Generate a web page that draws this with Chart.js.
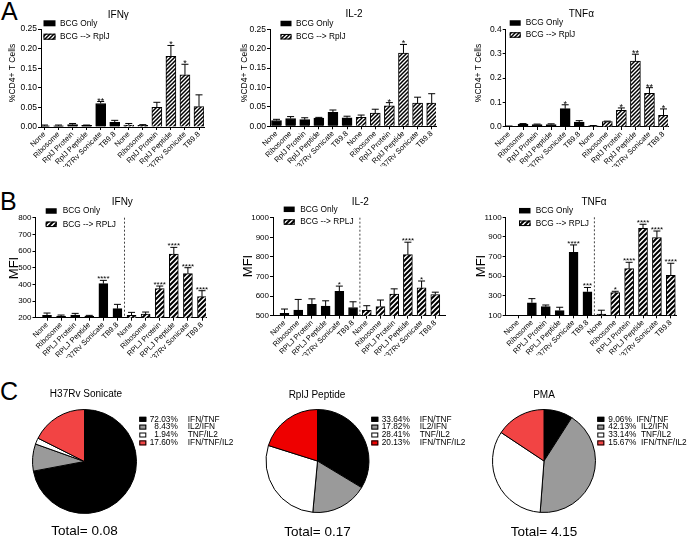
<!DOCTYPE html>
<html><head><meta charset="utf-8">
<script src="https://cdn.jsdelivr.net/npm/chart.js@4.4.1/dist/chart.umd.min.js"></script>
<style>
html,body{margin:0;padding:0;background:#fff;}
#wrap{position:relative;width:696px;height:538px;overflow:hidden;font-family:'Liberation Sans',Arial,sans-serif;}
#wrap canvas{position:absolute;left:0;top:0;}
.letter{position:absolute;font-size:25px;line-height:25px;color:#000;}
</style></head><body>
<div id="wrap">
<div class="letter" style="left:1px;top:-1px">A</div>
<div class="letter" style="left:0px;top:189px">B</div>
<div class="letter" style="left:0px;top:379px">C</div>
</div>
<script>
// ---------- DATA ----------
const categoriesA = ["None","Ribosome","RplJ Protein","RplJ Peptide","H37Rv Sonicate","TB9.8"];
const categoriesB = ["None","Ribosome","RPLJ Protein","RPLJ Peptide","H37Rv Sonicate","TB9.8"];
const legendA = ["BCG Only","BCG --> RplJ"];
const legendB = ["BCG Only","BCG --> RPLJ"];

// Panel A - IFNγ
const ifngA_bcg      = [0.003,0.003,0.006,0.004,0.060,0.012];
const ifngA_bcgErr   = [0.002,0.002,0.003,0.001,0.005,0.005];
const ifngA_bcgStars = ["","","","","**",""];
const ifngA_rplj      = [0.005,0.004,0.050,0.180,0.133,0.052];
const ifngA_rpljErr   = [0.004,0.002,0.013,0.028,0.027,0.030];
const ifngA_rpljStars = ["","","","*","*",""];
const ticksA_ifng = ["0.00","0.05","0.10","0.15","0.20","0.25"];

// Panel A - IL-2
const il2A_bcg      = [0.015,0.020,0.017,0.021,0.036,0.022];
const il2A_bcgErr   = [0.003,0.005,0.005,0.002,0.006,0.004];
const il2A_bcgStars = ["","","","","",""];
const il2A_rplj      = [0.023,0.034,0.053,0.189,0.060,0.060];
const il2A_rpljErr   = [0.006,0.010,0.008,0.022,0.015,0.024];
const il2A_rpljStars = ["","","*","*","",""];
const ticksA_il2 = ["0.00","0.05","0.10","0.15","0.20","0.25"];

// Panel A - TNFα
const tnfA_bcg      = [0.003,0.012,0.010,0.010,0.075,0.020];
const tnfA_bcgErr   = [0.001,0.002,0.002,0.003,0.016,0.006];
const tnfA_bcgStars = ["","","","","*",""];
const tnfA_rplj      = [0.005,0.022,0.068,0.270,0.138,0.048];
const tnfA_rpljErr   = [0.001,0.002,0.010,0.028,0.023,0.026];
const tnfA_rpljStars = ["","","*","**","**","*"];
const ticksA_tnf = ["0.0","0.1","0.2","0.3","0.4"];

// Panel B - IFNy (MFI)
const ifnB_bcg      = [214,210,216,210,404,254];
const ifnB_bcgErr   = [14,6,10,4,20,26];
const ifnB_bcgStars = ["","","","","****",""];
const ifnB_rplj      = [214,222,374,582,464,326];
const ifnB_rpljErr   = [18,12,16,40,36,36];
const ifnB_rpljStars = ["","","****","****","****","****"];
const ticksB_ifn = ["200","300","400","500","600","700","800"];

// Panel B - IL-2 (MFI)
const il2B_bcg      = [512,529,558,549,624,542];
const il2B_bcgErr   = [22,54,28,27,27,29];
const il2B_bcgStars = ["","","","","*",""];
const il2B_rplj      = [527,547,610,812,642,608];
const il2B_rpljErr   = [24,33,27,63,35,12];
const il2B_rpljStars = ["","","","****","*",""];
const ticksB_il2 = ["500","600","700","800","900","1000"];

// Panel B - TNFα (MFI)
const tnfB_bcg      = [100,228,188,148,743,340];
const tnfB_bcgErr   = [0,42,17,34,75,44];
const tnfB_bcgStars = ["","","","","****","***"];
const tnfB_rplj      = [112,331,576,988,892,508];
const tnfB_rpljErr   = [40,14,65,41,68,123];
const tnfB_rpljStars = ["","*","****","****","****","****"];
const ticksB_tnf = ["100","200","300","400","500","600","700","800","900","1000","1100"];

// Panel C - pies
const pieLabels = ["IFN/TNF","IL2/IFN","TNF/IL2","IFN/TNF/IL2"];
const pieSonicate = [72.03, 8.43, 1.94, 17.60];
const piePeptide  = [33.64, 17.82, 28.41, 20.13];
const piePMA      = [9.06, 42.13, 33.14, 15.67];
const pieTitles = ["H37Rv Sonicate","RplJ Peptide","PMA"];
const pieTotals = ["0.08","0.17","4.15"];

// ---------- RENDERING ----------
const FONT = "'Liberation Sans', Arial, Helvetica, sans-serif";
Chart.defaults.font.family = FONT;
Chart.defaults.color = '#000';
const W = 696, H = 538;

function makeHatch(size, lw) {
  const c = document.createElement('canvas'); c.width = size; c.height = size;
  const g = c.getContext('2d');
  g.fillStyle = '#fff'; g.fillRect(0, 0, size, size);
  g.strokeStyle = '#000'; g.lineWidth = lw;
  g.beginPath();
  for (const k of [-size, 0, size]) { g.moveTo(k - 1, size + 1); g.lineTo(k + size + 1, -1); }
  g.stroke();
  return g.createPattern(c, 'repeat');
}
const hatchA = makeHatch(4, 1.5);
const hatchB = makeHatch(5, 2);

function newCanvas() {
  const c = document.createElement('canvas');
  c.width = W; c.height = H;
  document.getElementById('wrap').appendChild(c);
  return c;
}

function barChart(s) {
  const cats = s.cats.concat(s.cats);
  const vals = s.bcg.concat(s.rplj);
  const errs = s.bcgErr.concat(s.rpljErr);
  const stars = s.bcgStars.concat(s.rpljStars);
  const g = s.geo;
  const slot = (g.c11 - g.c0) / 11;
  const xmin = -(g.c0 - g.L) / slot, xmax = 11 + (g.R - g.c11) / slot;
  const yVals = s.ticks.map(Number);
  const hatch = s.hatch;
  const deco = {
    id: 'deco',
    afterDatasetsDraw(chart) {
      const ctx = chart.ctx, xs = chart.scales.x, ys = chart.scales.y, ca = chart.chartArea;
      ctx.save();
      ctx.strokeStyle = '#000'; ctx.fillStyle = '#000'; ctx.lineWidth = 1;
      vals.forEach((v, i) => {
        const e = errs[i];
        const x = xs.getPixelForValue(i);
        if (e > 0 && v + e > ys.min) {
          const y0 = ys.getPixelForValue(Math.max(v, ys.min));
          const y1 = ys.getPixelForValue(v + e);
          ctx.beginPath();
          ctx.moveTo(x, y0); ctx.lineTo(x, y1);
          ctx.moveTo(x - g.cap, y1); ctx.lineTo(x + g.cap, y1);
          ctx.stroke();
        }
        if (stars[i]) {
          const yt = ys.getPixelForValue(v + e);
          ctx.font = g.starSize + 'px ' + FONT;
          ctx.textAlign = 'center'; ctx.textBaseline = 'alphabetic';
          ctx.fillText(stars[i], x, yt + g.starOff);
        }
      });
      if (s.divider) {
        const xd = xs.getPixelForValue(5.5);
        ctx.setLineDash([2, 2]); ctx.strokeStyle = '#444';
        ctx.beginPath(); ctx.moveTo(xd, ca.top); ctx.lineTo(xd, ca.bottom); ctx.stroke();
        ctx.setLineDash([]);
      }
      ctx.restore();
    },
    afterDraw(chart) {
      const ctx = chart.ctx;
      ctx.save();
      ctx.fillStyle = '#000'; ctx.strokeStyle = '#000'; ctx.lineWidth = 1;
      ctx.font = '10px ' + FONT; ctx.textAlign = 'center'; ctx.textBaseline = 'middle';
      ctx.fillText(s.title, g.tx, g.ty);
      ctx.save();
      ctx.translate(g.yx, g.yy); ctx.rotate(-Math.PI / 2);
      ctx.font = g.ySize + 'px ' + FONT;
      ctx.fillText(s.yTitle, 0, 0);
      ctx.restore();
      const lg = g.leg;
      ctx.font = '8.3px ' + FONT; ctx.textAlign = 'left'; ctx.textBaseline = 'middle';
      ctx.fillStyle = '#000';
      ctx.fillRect(lg.x, lg.y1 - lg.h / 2, lg.w, lg.h);
      ctx.fillText(s.legend[0], lg.tx, lg.y1);
      ctx.fillStyle = hatch;
      ctx.fillRect(lg.x, lg.y2 - lg.h / 2, lg.w, lg.h);
      ctx.strokeRect(lg.x + 0.5, lg.y2 - lg.h / 2 + 0.5, lg.w - 1, lg.h - 1);
      ctx.fillStyle = '#000';
      ctx.fillText(s.legend[1], lg.tx, lg.y2);
      ctx.restore();
    }
  };
  const colors = vals.map((v, i) => i < 6 ? '#000' : hatch);
  return new Chart(newCanvas(), {
    type: 'bar',
    data: { datasets: [{
      data: vals.map((v, i) => ({ x: i, y: v })),
      backgroundColor: colors, borderColor: '#000', borderWidth: 1,
      barThickness: g.bw
    }]},
    options: {
      responsive: false, animation: false, devicePixelRatio: 1, events: [],
      layout: { padding: { left: 0, top: g.T, right: W - g.R, bottom: H - g.B - 40 } },
      plugins: { legend: { display: false }, tooltip: { enabled: false }, title: { display: false } },
      scales: {
        x: {
          type: 'linear', min: xmin, max: xmax, offset: false,
          afterBuildTicks: sc => { sc.ticks = cats.map((c, i) => ({ value: i })); },
          afterFit: sc => { sc.height = 40; sc.paddingLeft = 0; sc.paddingRight = 0; },
          ticks: { autoSkip: false, minRotation: 45, maxRotation: 45, padding: 0,
                   font: { size: 7.5 }, color: '#000', callback: v => cats[v] },
          grid: { drawOnChartArea: false, drawTicks: true, tickLength: 3, color: '#000', offset: false },
          border: { color: '#000', width: 1 }
        },
        y: {
          type: 'linear', min: yVals[0], max: yVals[yVals.length - 1],
          afterBuildTicks: sc => { sc.ticks = yVals.map(v => ({ value: v })); },
          afterFit: sc => { sc.width = g.L; },
          ticks: { font: { size: g.tickSize }, color: '#000', padding: 1,
                   callback: (v, idx) => s.ticks[idx] },
          grid: { drawOnChartArea: false, drawTicks: true, tickLength: 3, color: '#000' },
          border: { color: '#000', width: 1 }
        }
      }
    },
    plugins: [deco]
  });
}

function pieChart(p) {
  const g = p.geo;
  const deco = {
    id: 'pdeco',
    afterDraw(chart) {
      const ctx = chart.ctx;
      ctx.save();
      ctx.fillStyle = '#000';
      ctx.font = '10px ' + FONT; ctx.textAlign = 'center'; ctx.textBaseline = 'middle';
      ctx.fillText(p.title, g.tx, g.ty);
      ctx.font = '13.5px ' + FONT;
      ctx.fillText('Total= ' + p.total, g.cx, g.totY);
      ctx.font = '8.3px ' + FONT; ctx.textBaseline = 'middle'; ctx.lineWidth = 1; ctx.strokeStyle = '#000';
      p.values.forEach((v, i) => {
        const y = g.rows[i];
        ctx.fillStyle = p.colors[i];
        ctx.fillRect(g.bx, y - 2.5, 7, 5);
        ctx.strokeRect(g.bx + 0.5, y - 2.5 + 0.5, 6, 4);
        ctx.fillStyle = '#000';
        const pct = v.toFixed(2) + '%';
        if (g.leftAlign) {
          ctx.textAlign = 'left';
          ctx.fillText(pct + '  ' + pieLabels[i], g.bx + 11, y);
        } else {
          ctx.textAlign = 'right';
          ctx.fillText(pct, g.bx + 38.5, y);
          ctx.textAlign = 'left';
          ctx.fillText(pieLabels[i], g.bx + 48.5, y);
        }
      });
      ctx.restore();
    }
  };
  const r = g.r;
  return new Chart(newCanvas(), {
    type: 'pie',
    data: { labels: pieLabels, datasets: [{
      data: p.values, backgroundColor: p.colors, borderColor: '#000', borderWidth: 1,
      hoverOffset: 0, offset: 0
    }]},
    options: {
      responsive: false, animation: false, devicePixelRatio: 1, events: [],
      layout: { padding: { left: g.cx - r - 0.5, top: g.cy - r - 0.5,
                           right: W - (g.cx + r + 0.5), bottom: H - (g.cy + r + 0.5) } },
      plugins: { legend: { display: false }, tooltip: { enabled: false } }
    },
    plugins: [deco]
  });
}

const geoA = (L, R, T, B, c0, c11, tx, ty, yx, leg) => ({ L, R, T, B, c0, c11, tx, ty, yx, yy: 73, ySize: 8.5,
  bw: 10, cap: 3.5, starSize: 9, starOff: 2, tickSize: 8.5, leg });
const geoB = (L, R, T, B, c0, c11, tx, ty, yx, yy, leg) => ({ L, R, T, B, c0, c11, tx, ty, yx, yy, ySize: 13,
  bw: 9, cap: 3.5, starSize: 8, starOff: 1, tickSize: 8, leg });

barChart({ cats: categoriesA, bcg: ifngA_bcg, bcgErr: ifngA_bcgErr, bcgStars: ifngA_bcgStars,
  rplj: ifngA_rplj, rpljErr: ifngA_rpljErr, rpljStars: ifngA_rpljStars, ticks: ticksA_ifng,
  title: 'IFNγ', yTitle: '%CD4+ T Cells', legend: legendA, hatch: hatchA,
  geo: geoA(41, 204, 29, 127, 44.5, 199, 118.3, 15, 12.7, { x: 43.5, w: 12, h: 6, tx: 60, y1: 23.3, y2: 36.7 }) });
barChart({ cats: categoriesA, bcg: il2A_bcg, bcgErr: il2A_bcgErr, bcgStars: il2A_bcgStars,
  rplj: il2A_rplj, rpljErr: il2A_rpljErr, rpljStars: il2A_rpljStars, ticks: ticksA_il2,
  title: 'IL-2', yTitle: '%CD4+ T Cells', legend: legendA, hatch: hatchA,
  geo: geoA(270, 436, 29.3, 126.3, 276.5, 431.7, 354, 14, 245, { x: 280.5, w: 11, h: 5.5, tx: 296, y1: 23.5, y2: 36.7 }) });
barChart({ cats: categoriesA, bcg: tnfA_bcg, bcgErr: tnfA_bcgErr, bcgStars: tnfA_bcgStars,
  rplj: tnfA_rplj, rpljErr: tnfA_rpljErr, rpljStars: tnfA_rpljStars, ticks: ticksA_tnf,
  title: 'TNFα', yTitle: '%CD4+ T Cells', legend: legendA, hatch: hatchA,
  geo: geoA(505.7, 668, 29.3, 127, 509, 663.5, 581.3, 14.3, 479, { x: 509.7, w: 11, h: 5.5, tx: 525.7, y1: 23, y2: 35 }) });

barChart({ cats: categoriesB, bcg: ifnB_bcg, bcgErr: ifnB_bcgErr, bcgStars: ifnB_bcgStars,
  rplj: ifnB_rplj, rpljErr: ifnB_rpljErr, rpljStars: ifnB_rpljStars, ticks: ticksB_ifn,
  title: 'IFNy', yTitle: 'MFI', legend: legendB, hatch: hatchB, divider: true,
  geo: geoB(35.5, 206, 217.7, 317.7, 47, 202, 122.3, 202.7, 14.7, 268, { x: 45.7, w: 11, h: 5.5, tx: 62.7, y1: 211, y2: 224.3 }) });
barChart({ cats: categoriesB, bcg: il2B_bcg, bcgErr: il2B_bcgErr, bcgStars: il2B_bcgStars,
  rplj: il2B_rplj, rpljErr: il2B_rpljErr, rpljStars: il2B_rpljStars, ticks: ticksB_il2,
  title: 'IL-2', yTitle: 'MFI', legend: legendB, hatch: hatchB, divider: true,
  geo: geoB(273, 445, 217.7, 315.7, 284.5, 435.3, 360.3, 202, 248.5, 266, { x: 283.7, w: 11, h: 5.5, tx: 300.3, y1: 209.3, y2: 222 }) });
barChart({ cats: categoriesB, bcg: tnfB_bcg, bcgErr: tnfB_bcgErr, bcgStars: tnfB_bcgStars,
  rplj: tnfB_rplj, rpljErr: tnfB_rpljErr, rpljStars: tnfB_rpljStars, ticks: ticksB_tnf,
  title: 'TNFα', yTitle: 'MFI', legend: legendB, hatch: hatchB, divider: true,
  geo: geoB(505.7, 676, 217.3, 315.3, 518, 670.8, 594, 202, 481.5, 266, { x: 519, w: 11.5, h: 5.5, tx: 535.7, y1: 210.7, y2: 223.3 }) });

const rowsC = [419.3, 427.1, 435, 442.9];
pieChart({ values: pieSonicate, title: pieTitles[0], total: pieTotals[0],
  colors: ['#000000', '#9a9a9a', '#ffffff', '#f24444'],
  geo: { cx: 84.5, cy: 461.5, r: 52, tx: 86, ty: 394, totY: 531.7, bx: 139.3, rows: rowsC, leftAlign: false } });
pieChart({ values: piePeptide, title: pieTitles[1], total: pieTotals[1],
  colors: ['#000000', '#9a9a9a', '#ffffff', '#ee0000'],
  geo: { cx: 317.5, cy: 461, r: 51.5, tx: 317, ty: 395.7, totY: 532, bx: 371.3, rows: rowsC, leftAlign: false } });
pieChart({ values: piePMA, title: pieTitles[2], total: pieTotals[2],
  colors: ['#000000', '#9a9a9a', '#ffffff', '#f24444'],
  geo: { cx: 544, cy: 461, r: 51.5, tx: 544, ty: 395.7, totY: 532, bx: 597.3, rows: rowsC, leftAlign: true } });
</script>
</body></html>
